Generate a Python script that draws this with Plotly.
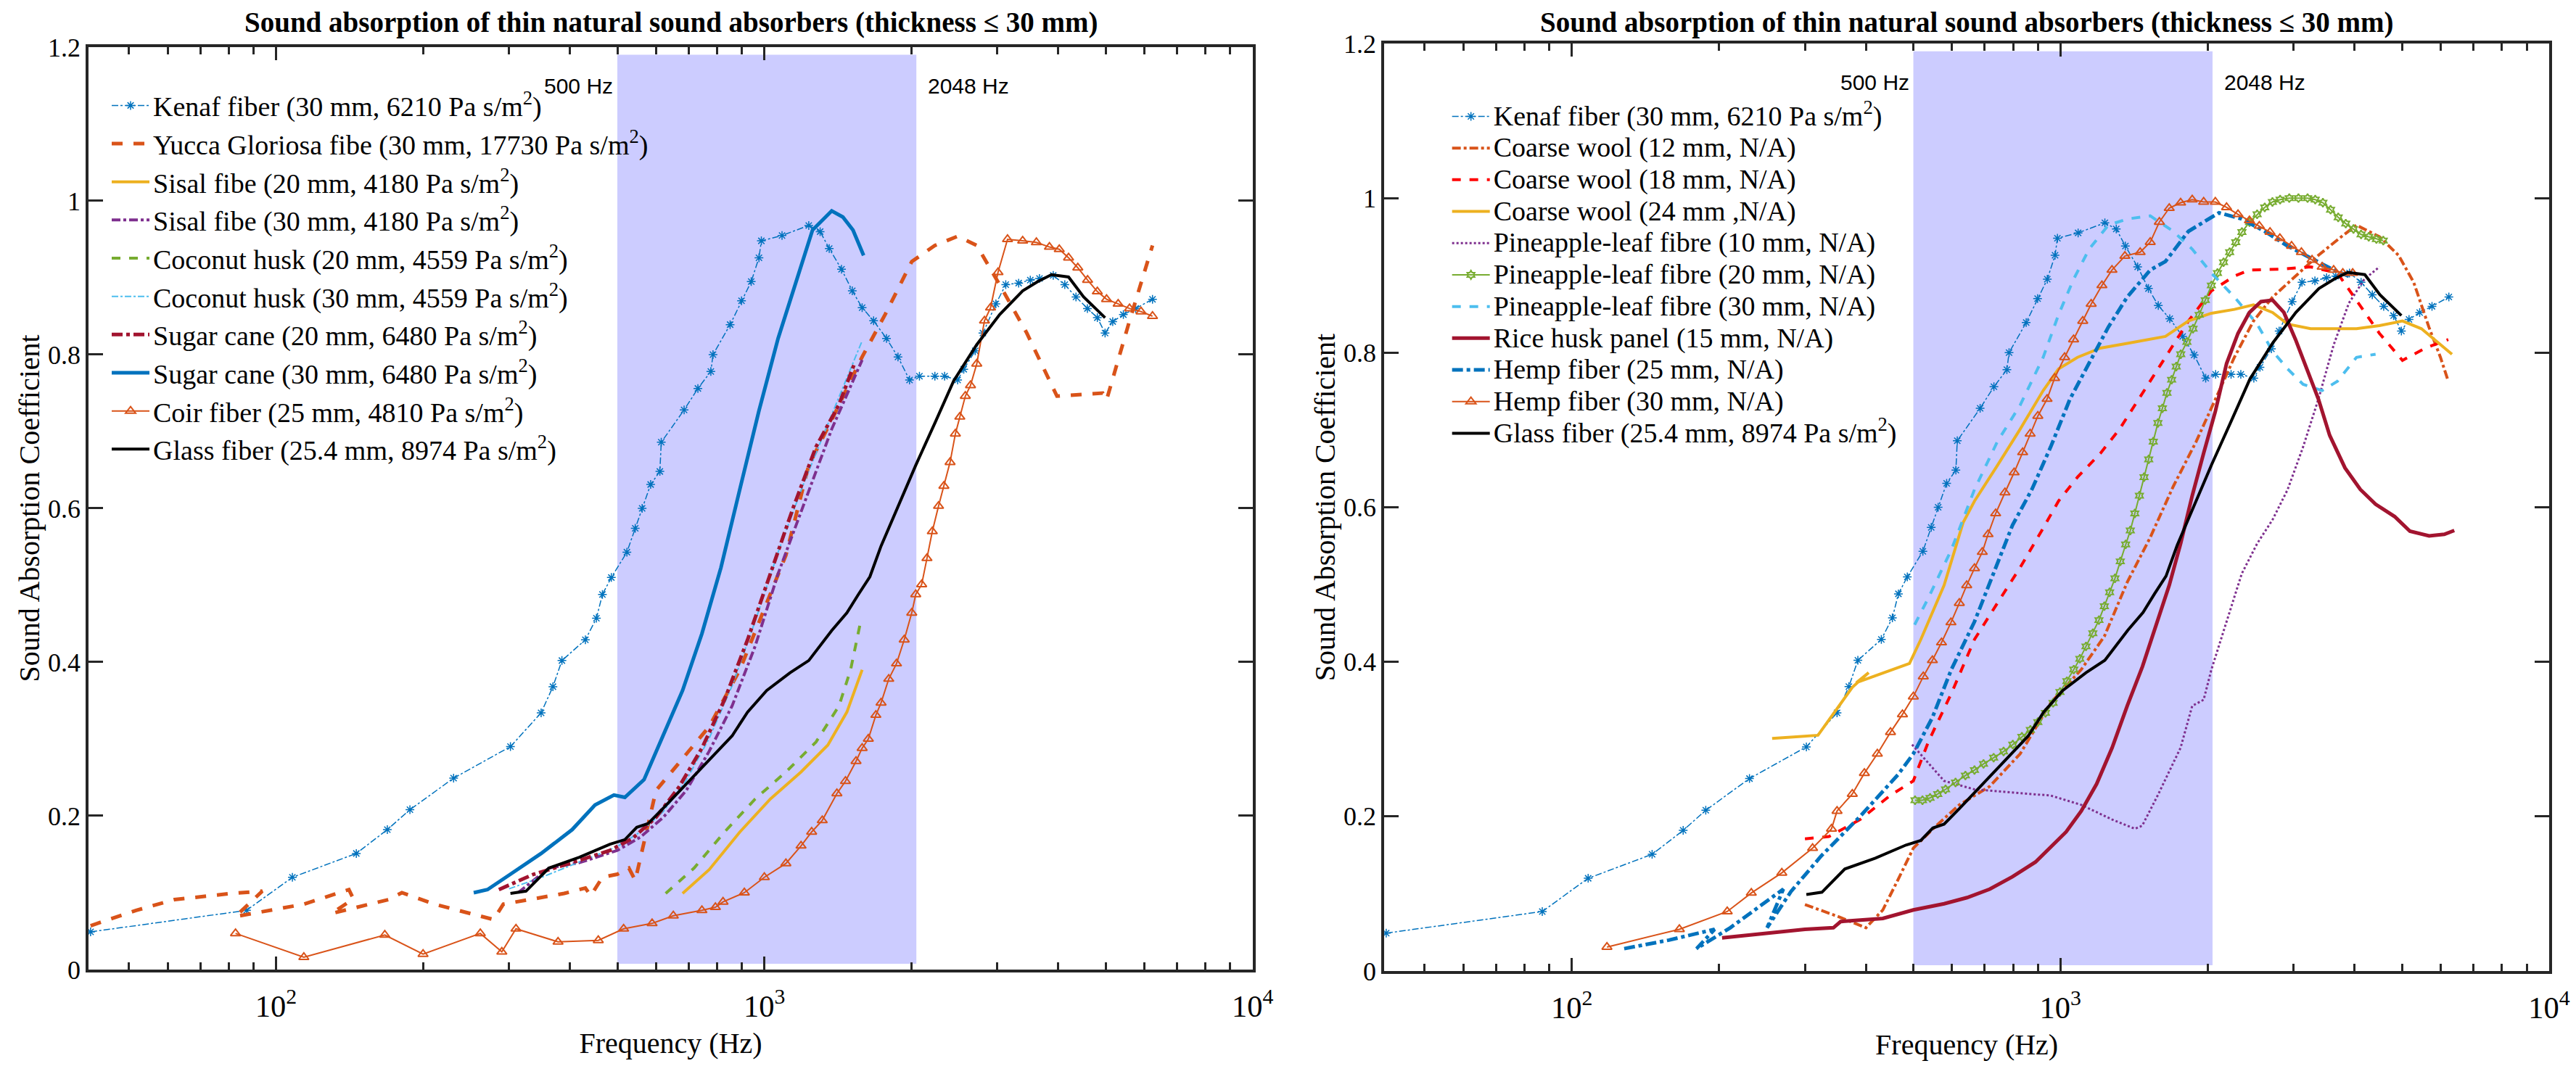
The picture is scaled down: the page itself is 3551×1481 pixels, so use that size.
import numpy as np
import plotly.graph_objects as go

# MATLAB default colour order
BLUE = '#0072BD'
ORANGE = '#D95319'
YELLOW = '#EDB120'
PURPLE = '#7E2F8E'
GREEN = '#77AC30'
LIGHTBLUE = '#4DBEEE'
DARKRED = '#A2142F'
RED = '#FF0000'
BLACK = '#000000'
AXIS = '#262626'

TITLE = 'Sound absorption of thin natural sound absorbers (thickness \u2264 30 mm)'
BAND_LOW, BAND_HIGH = 500, 2048

# ---- curves shared by both panels ----
kenaf_f = [41.7, 87, 108, 146, 169, 188, 231, 302, 349, 369, 385, 430, 453, 466, 486, 523, 544, 562,
           585, 611, 615, 685, 731, 777, 785, 851, 898, 940, 975, 986, 1087, 1233, 1301, 1358, 1439,
           1514, 1586, 1674, 1779, 1878, 1983, 2078, 2235, 2340, 2488, 2561, 2703, 2803, 2980, 3122,
           3318, 3505, 3660, 3905, 4124, 4348, 4588, 4808, 4987, 5170, 5436, 5761, 6237]
kenaf_a = [0.049, 0.077, 0.120, 0.151, 0.182, 0.208, 0.249, 0.290, 0.334, 0.368, 0.402, 0.429, 0.457,
           0.488, 0.510, 0.543, 0.574, 0.600, 0.631, 0.648, 0.686, 0.728, 0.756, 0.778, 0.800, 0.839,
           0.870, 0.895, 0.926, 0.948, 0.955, 0.968, 0.960, 0.938, 0.911, 0.883, 0.861, 0.844, 0.821,
           0.797, 0.767, 0.772, 0.772, 0.772, 0.767, 0.781, 0.805, 0.828, 0.866, 0.891, 0.893, 0.897,
           0.899, 0.903, 0.891, 0.875, 0.860, 0.848, 0.828, 0.843, 0.852, 0.860, 0.872]

glass_f = [302, 325, 362, 418, 483, 518, 548, 578, 621, 692, 771, 859, 924, 1011, 1128, 1233, 1374,
           1476, 1558, 1645, 1734, 1899, 2042, 2235, 2443, 2723, 3033, 3381, 3631, 3873, 4198, 4507,
           4763, 4987]
glass_a = [0.099, 0.102, 0.132, 0.146, 0.163, 0.169, 0.185, 0.190, 0.210, 0.241, 0.273, 0.304, 0.335,
           0.363, 0.386, 0.402, 0.441, 0.464, 0.488, 0.511, 0.551, 0.609, 0.656, 0.711, 0.766, 0.813,
           0.852, 0.883, 0.895, 0.904, 0.901, 0.875, 0.860, 0.848]

# ---- left panel ----
yucca_f = [41.7, 51.7, 61.9, 81.1, 93.7, 82.6, 114, 141, 144, 130, 170, 181, 211, 279, 292, 337, 389,
           430, 441, 466, 500, 528, 544, 600, 668, 771, 891, 1011, 1107, 1233, 1374, 1586, 1767, 2004,
           2235, 2488, 2723, 3033, 3441, 3975, 4931, 5022, 5597, 6237]
yucca_a = [0.057, 0.077, 0.091, 0.099, 0.102, 0.069, 0.085, 0.104, 0.092, 0.073, 0.091, 0.100, 0.085,
           0.065, 0.085, 0.092, 0.099, 0.106, 0.096, 0.120, 0.124, 0.132, 0.116, 0.233, 0.269, 0.316,
           0.390, 0.476, 0.539, 0.656, 0.715, 0.797, 0.852, 0.921, 0.942, 0.954, 0.942, 0.891, 0.829,
           0.746, 0.750, 0.741, 0.844, 0.942]

sisal20_f = [680, 771, 891, 1029, 1189, 1349, 1476, 1586]
sisal20_a = [0.099, 0.130, 0.179, 0.222, 0.257, 0.292, 0.335, 0.390]

sisal30_f = [313, 362, 418, 500, 557, 621, 692, 771, 859, 958, 1067, 1210, 1374, 1586]
sisal30_a = [0.100, 0.132, 0.139, 0.155, 0.172, 0.198, 0.233, 0.284, 0.343, 0.421, 0.515, 0.609,
             0.703, 0.793]

coconut20_f = [628, 718, 829, 958, 1107, 1276, 1422, 1502, 1575]
coconut20_a = [0.099, 0.132, 0.179, 0.222, 0.257, 0.296, 0.343, 0.390, 0.453]

coconut30_f = [300, 350, 400, 450, 500, 560, 620, 690, 770, 860, 960, 1070, 1200, 1350, 1500, 1586]
coconut30_a = [0.105, 0.120, 0.135, 0.148, 0.160, 0.180, 0.205, 0.245, 0.300, 0.370, 0.455, 0.545,
               0.630, 0.710, 0.780, 0.818]

sugar20_f = [286, 337, 404, 483, 538, 600, 668, 745, 829, 924, 1029, 1146, 1276, 1422, 1531]
sugar20_a = [0.104, 0.124, 0.139, 0.155, 0.171, 0.198, 0.237, 0.288, 0.351, 0.429, 0.515, 0.601,
             0.680, 0.735, 0.789]

sugar30_f = [254, 271, 302, 349, 404, 450, 492, 518, 567, 621, 680, 745, 815, 891, 975, 1067, 1166,
             1255, 1374, 1448, 1519, 1597]
sugar30_a = [0.100, 0.104, 0.124, 0.151, 0.182, 0.214, 0.227, 0.224, 0.247, 0.304, 0.363, 0.437,
             0.523, 0.625, 0.727, 0.821, 0.899, 0.962, 0.987, 0.979, 0.962, 0.929]

coir_f = [82.6, 114, 167, 200, 262, 290, 310, 378, 457, 515, 589, 651, 745, 794, 823, 910, 1000, 1107,
          1189, 1250, 1314, 1408, 1466, 1541, 1586, 1633, 1692, 1734, 1798, 1865, 1934, 2004, 2042,
          2100, 2153, 2208, 2274, 2332, 2401, 2462, 2514, 2580, 2644, 2723, 2824, 2906, 3010, 3148,
          3381, 3607, 3836, 4018, 4198, 4385, 4592, 4808, 5022, 5304, 5597, 5908, 6237]
coir_a = [0.047, 0.016, 0.045, 0.020, 0.047, 0.023, 0.053, 0.036, 0.038, 0.053, 0.060, 0.070, 0.077,
          0.081, 0.088, 0.100, 0.120, 0.138, 0.161, 0.179, 0.194, 0.229, 0.245, 0.271, 0.288, 0.300,
          0.331, 0.347, 0.378, 0.398, 0.429, 0.464, 0.488, 0.501, 0.535, 0.570, 0.603, 0.629, 0.660,
          0.697, 0.719, 0.746, 0.760, 0.788, 0.844, 0.861, 0.907, 0.950, 0.948, 0.946, 0.940, 0.937,
          0.926, 0.913, 0.897, 0.882, 0.872, 0.866, 0.860, 0.856, 0.850]

# ---- right panel ----
wool12_f = [300, 349, 400, 433, 465, 500, 557, 621, 717, 827, 955, 1103, 1230, 1370, 1527, 1702, 1896,
            2075, 2270, 2484, 2718, 3028, 3373, 3757, 4036, 4497, 4920, 5285, 5678, 5995, 6220]
wool12_a = [0.086, 0.071, 0.056, 0.079, 0.118, 0.159, 0.188, 0.215, 0.239, 0.281, 0.347, 0.390, 0.433,
            0.503, 0.561, 0.627, 0.685, 0.740, 0.794, 0.841, 0.872, 0.899, 0.926, 0.950, 0.965, 0.950,
            0.926, 0.891, 0.833, 0.794, 0.763]

wool18_f = [300, 336, 389, 448, 500, 537, 598, 667, 743, 827, 922, 991, 1084, 1208, 1321, 1472, 1640,
            1828, 2037, 2270, 2437, 2818, 3252, 3690, 4036, 4497, 5012, 5584, 6220]
wool18_a = [0.171, 0.174, 0.196, 0.227, 0.246, 0.297, 0.359, 0.429, 0.476, 0.522, 0.573, 0.608, 0.639,
            0.670, 0.701, 0.747, 0.794, 0.841, 0.880, 0.899, 0.907, 0.908, 0.911, 0.903, 0.868, 0.825,
            0.790, 0.806, 0.817]

wool24_f = [257, 319, 375, 405, 382, 491, 518, 578, 632, 667, 743, 827, 922, 991, 1084, 1208, 1370,
            1640, 1828, 2037, 2270, 2484, 2718, 2918, 3252, 4036, 4497, 5012, 5481, 5888, 6330]
wool24_a = [0.301, 0.305, 0.367, 0.386, 0.373, 0.398, 0.429, 0.499, 0.580, 0.608, 0.654, 0.701, 0.751,
            0.779, 0.794, 0.806, 0.812, 0.821, 0.841, 0.851, 0.856, 0.862, 0.852, 0.837, 0.831, 0.831,
            0.835, 0.841, 0.831, 0.814, 0.798]

pine10_f = [497, 578, 667, 798, 955, 1103, 1276, 1421, 1470, 1581, 1762, 1861, 1964, 2037, 2188, 2350,
            2527, 2718, 2918, 3138, 3373, 3624, 3893, 4188, 4497]
pine10_a = [0.293, 0.246, 0.235, 0.231, 0.227, 0.215, 0.196, 0.184, 0.188, 0.227, 0.289, 0.343, 0.351,
            0.390, 0.452, 0.514, 0.553, 0.584, 0.623, 0.678, 0.740, 0.810, 0.864, 0.895, 0.911]

pine20_f = [504, 522, 541, 561, 582, 610, 639, 667, 696, 730, 765, 799, 834, 868, 899, 932, 966, 998,
            1031, 1065, 1096, 1128, 1165, 1199, 1230, 1261, 1293, 1326, 1360, 1390, 1420, 1451, 1483,
            1516, 1549, 1583, 1617, 1652, 1689, 1726, 1763, 1815, 1868, 1923, 1979, 2037, 2096, 2157,
            2220, 2285, 2352, 2438, 2527, 2619, 2716, 2816, 2940, 3070, 3205, 3323, 3445, 3572, 3703,
            3837, 3979, 4124, 4276, 4433, 4579]
pine20_a = [0.221, 0.221, 0.224, 0.229, 0.235, 0.244, 0.253, 0.260, 0.268, 0.276, 0.284, 0.293, 0.303,
            0.312, 0.322, 0.334, 0.347, 0.361, 0.375, 0.390, 0.404, 0.420, 0.437, 0.454, 0.472, 0.490,
            0.508, 0.530, 0.552, 0.570, 0.592, 0.615, 0.639, 0.662, 0.685, 0.709, 0.728, 0.748, 0.765,
            0.782, 0.798, 0.814, 0.831, 0.849, 0.868, 0.887, 0.903, 0.917, 0.930, 0.943, 0.956, 0.969,
            0.979, 0.988, 0.995, 0.998, 1.000, 1.000, 1.000, 0.998, 0.994, 0.985, 0.975, 0.967, 0.960,
            0.953, 0.950, 0.947, 0.945]

pine30_f = [503, 537, 598, 667, 743, 827, 922, 991, 1064, 1145, 1253, 1370, 1527, 1702, 1861, 2037,
            2270, 2527, 2718, 2918, 3138, 3433, 3690, 4036, 4416]
pine30_a = [0.448, 0.483, 0.545, 0.623, 0.685, 0.732, 0.794, 0.849, 0.895, 0.934, 0.965, 0.973, 0.977,
            0.957, 0.934, 0.903, 0.872, 0.837, 0.802, 0.779, 0.759, 0.751, 0.763, 0.794, 0.798]

rice_f = [203, 243, 300, 343, 355, 433, 500, 578, 644, 717, 798, 889, 955, 1027, 1103, 1186, 1276,
          1370, 1472, 1581, 1670, 1762, 1861, 1964, 2075, 2188, 2309, 2437, 2573, 2718, 2867, 3028,
          3191, 3373, 3557, 3823, 4110, 4416, 4831, 5192, 5682, 6105, 6399]
rice_a = [0.043, 0.048, 0.054, 0.056, 0.064, 0.068, 0.079, 0.087, 0.095, 0.106, 0.122, 0.141, 0.161,
          0.180, 0.207, 0.242, 0.289, 0.343, 0.394, 0.452, 0.499, 0.553, 0.615, 0.670, 0.724, 0.786,
          0.825, 0.852, 0.866, 0.868, 0.852, 0.817, 0.779, 0.740, 0.693, 0.651, 0.623, 0.604, 0.588,
          0.569, 0.563, 0.565, 0.570]

hemp25_f = [128, 158, 196, 180, 211, 271, 251, 281, 324, 389, 465, 500, 547, 598, 667, 730, 798, 874,
            955, 1046, 1143, 1253, 1370, 1527, 1640, 1828, 1964, 2111, 2350, 2618, 2918, 3252, 3624,
            3893]
hemp25_a = [0.029, 0.040, 0.054, 0.029, 0.056, 0.106, 0.056, 0.103, 0.149, 0.200, 0.254, 0.281, 0.328,
            0.390, 0.452, 0.514, 0.577, 0.623, 0.678, 0.740, 0.786, 0.833, 0.872, 0.907, 0.918, 0.957,
            0.969, 0.981, 0.973, 0.957, 0.938, 0.922, 0.907, 0.899]

hemp30_f = [118, 166, 208, 233, 269, 311, 340, 349, 375, 397, 422, 449, 475, 500, 524, 547, 571, 597,
            621, 643, 667, 692, 711, 737, 770, 804, 837, 867, 899, 939, 973, 1020, 1064, 1111, 1156,
            1216, 1275, 1355, 1456, 1527, 1594, 1670, 1762, 1861, 1964, 2075, 2188, 2309, 2437, 2553,
            2685, 2813, 2972, 3113, 3273, 3433, 3624, 3784, 3964]
hemp30_a = [0.031, 0.054, 0.077, 0.101, 0.127, 0.159, 0.184, 0.207, 0.229, 0.256, 0.281, 0.309, 0.332,
            0.355, 0.381, 0.402, 0.425, 0.451, 0.476, 0.499, 0.521, 0.542, 0.565, 0.592, 0.619, 0.645,
            0.671, 0.695, 0.718, 0.740, 0.767, 0.794, 0.817, 0.841, 0.863, 0.887, 0.907, 0.925, 0.930,
            0.943, 0.969, 0.987, 0.994, 0.998, 0.995, 0.995, 0.988, 0.979, 0.971, 0.964, 0.956, 0.948,
            0.938, 0.930, 0.920, 0.911, 0.907, 0.903, 0.903]

SQ = 'Pa s/m<sup>2</sup>'


def name(txt):
    # legend text drawn at 38px while the row height follows the legend font
    return '<span style="font-size:38px">' + txt + '</span>'


fig = go.Figure()


def add_curve(f, a, label, color, width, dash='solid', symbol=None, msize=12, panel=1, mlw=2):
    xa, ya = ('x', 'y') if panel == 1 else ('x2', 'y2')
    trace = dict(x=f, y=a, name=name(label), xaxis=xa, yaxis=ya,
                 legend='legend' if panel == 1 else 'legend2',
                 line=dict(color=color, width=width, dash=dash),
                 mode='lines', hoverinfo='skip')
    if symbol:
        trace['mode'] = 'lines+markers'
        trace['marker'] = dict(symbol=symbol, size=msize, color=color,
                               line=dict(color=color, width=mlw))
    fig.add_trace(go.Scatter(**trace))


# left panel
add_curve(kenaf_f, kenaf_a, 'Kenaf fiber (30 mm, 6210 ' + SQ + ')', BLUE, 1.5, 'dashdot', 'asterisk-open', 10, mlw=1.5)
add_curve(yucca_f, yucca_a, 'Yucca Gloriosa fibe (30 mm, 17730 ' + SQ + ')', ORANGE, 5, 'dash')
add_curve(sisal20_f, sisal20_a, 'Sisal fibe (20 mm, 4180 ' + SQ + ')', YELLOW, 4)
add_curve(sisal30_f, sisal30_a, 'Sisal fibe (30 mm, 4180 ' + SQ + ')', PURPLE, 4, 'dashdot')
add_curve(coconut20_f, coconut20_a, 'Coconut husk (20 mm, 4559 ' + SQ + ')', GREEN, 4, 'dash')
add_curve(coconut30_f, coconut30_a, 'Coconut husk (30 mm, 4559 ' + SQ + ')', LIGHTBLUE, 2, 'dashdot')
add_curve(sugar20_f, sugar20_a, 'Sugar cane (20 mm, 6480 ' + SQ + ')', DARKRED, 5, 'dashdot')
add_curve(sugar30_f, sugar30_a, 'Sugar cane (30 mm, 6480 ' + SQ + ')', BLUE, 5)
add_curve(coir_f, coir_a, 'Coir fiber (25 mm, 4810 ' + SQ + ')', ORANGE, 2, 'solid', 'triangle-up-open', 12)
add_curve(glass_f, glass_a, 'Glass fiber (25.4 mm, 8974 ' + SQ + ')', BLACK, 4)

# right panel
add_curve(kenaf_f, kenaf_a, 'Kenaf fiber (30 mm, 6210 ' + SQ + ')', BLUE, 1.5, 'dashdot', 'asterisk-open', 10, panel=2, mlw=1.5)
add_curve(wool12_f, wool12_a, 'Coarse wool (12 mm, N/A)', ORANGE, 4, 'dashdot', panel=2)
add_curve(wool18_f, wool18_a, 'Coarse wool (18 mm, N/A)', RED, 4, 'dash', panel=2)
add_curve(wool24_f, wool24_a, 'Coarse wool (24 mm ,N/A)', YELLOW, 4, panel=2)
add_curve(pine10_f, pine10_a, 'Pineapple-leaf fibre (10 mm, N/A)', PURPLE, 3, 'dot', panel=2)
add_curve(pine20_f, pine20_a, 'Pineapple-leaf fibre (20 mm, N/A)', GREEN, 2, 'solid', 'hexagram-open', 9, panel=2)
add_curve(pine30_f, pine30_a, 'Pineapple-leaf fibre (30 mm, N/A)', LIGHTBLUE, 4, 'dash', panel=2)
add_curve(rice_f, rice_a, 'Rice husk panel (15 mm, N/A)', DARKRED, 5, panel=2)
add_curve(hemp25_f, hemp25_a, 'Hemp fiber (25 mm, N/A)', BLUE, 5, 'dashdot', panel=2)
add_curve(hemp30_f, hemp30_a, 'Hemp fiber (30 mm, N/A)', ORANGE, 2, 'solid', 'triangle-up-open', 12, panel=2)
add_curve(glass_f, glass_a, 'Glass fiber (25.4 mm, 8974 ' + SQ + ')', BLACK, 4, panel=2)

SERIF = 'Liberation Serif, Times New Roman, serif'
SANS = 'Liberation Sans, Arial, sans-serif'

# figure is a little smaller than the window so the page margin does not crop it
W, H = 3543, 1473
xdom = {1: [0.0322, 0.4852], 2: [0.5363, 0.9896]}
ydom = {1: [0.0978, 0.9613], 2: [0.0964, 0.9647]}
title_y = {1: 0.9847, 2: 0.9847}

shapes, annotations = [], []
for p in (1, 2):
    sx = '' if p == 1 else '2'
    common = dict(showline=True, linewidth=4, linecolor=AXIS, mirror='ticks', ticks='inside',
                  tickwidth=3, tickcolor=AXIS, showgrid=False, zeroline=False, automargin=False)
    fig.update_layout({
        'xaxis' + sx: dict(type='log', range=[1.616, 4.0005], domain=xdom[p], anchor='y' + sx,
                           dtick=1, exponentformat='power', ticklen=18, ticklabelstandoff=12,
                           minor=dict(ticks='inside', ticklen=10, tickwidth=3, tickcolor=AXIS),
                           tickfont=dict(family=SERIF, size=34, color=BLACK),
                           title=dict(text='Frequency (Hz)', font=dict(family=SERIF, size=40, color=BLACK)),
                           **common),
        'yaxis' + sx: dict(range=[0, 1.2], domain=ydom[p], anchor='x' + sx, dtick=0.2, tick0=0,
                           ticklen=20, tickfont=dict(family=SERIF, size=36, color=BLACK),
                           title=dict(text='Sound Absorption Coefficient', standoff=0,
                                      font=dict(family=SERIF, size=40, color=BLACK)),
                           **common),
    })
    shapes.append(dict(type='rect', xref='x' + sx, yref='y' + sx, x0=BAND_LOW, x1=BAND_HIGH,
                       y0=0.0075, y1=1.19, fillcolor='#CCCCFF', line=dict(width=0), layer='below'))
    annotations.append(dict(xref='x' + sx, yref='y' + sx, x=np.log10(BAND_LOW), y=1.15,
                            text='500 Hz', showarrow=False, xanchor='right', xshift=-4,
                            font=dict(family=SANS, size=30, color=BLACK)))
    annotations.append(dict(xref='x' + sx, yref='y' + sx, x=np.log10(BAND_HIGH), y=1.15,
                            text='2048 Hz', showarrow=False, xanchor='left', xshift=14,
                            font=dict(family=SANS, size=30, color=BLACK)))
    annotations.append(dict(xref='paper', yref='paper', x=sum(xdom[p]) / 2, xanchor='center',
                            y=title_y[p], yanchor='middle',
                            text='<b>' + TITLE + '</b>', showarrow=False,
                            font=dict(family=SERIF, size=39, color=BLACK)))

fig.update_layout(
    width=W, height=H,
    margin=dict(l=0, r=0, t=0, b=0, autoexpand=False),
    paper_bgcolor='white', plot_bgcolor='white',
    shapes=shapes, annotations=annotations,
    showlegend=True,
    legend=dict(x=0.0398, y=0.9280, xanchor='left', yanchor='top', bgcolor='rgba(0,0,0,0)',
                font=dict(family=SERIF, size=38.2, color=BLACK), itemwidth=52),
    legend2=dict(x=0.5613, y=0.9147, xanchor='left', yanchor='top', bgcolor='rgba(0,0,0,0)',
                 font=dict(family=SERIF, size=31.3, color=BLACK), itemwidth=52),
)

fig.write_html('out.html')
